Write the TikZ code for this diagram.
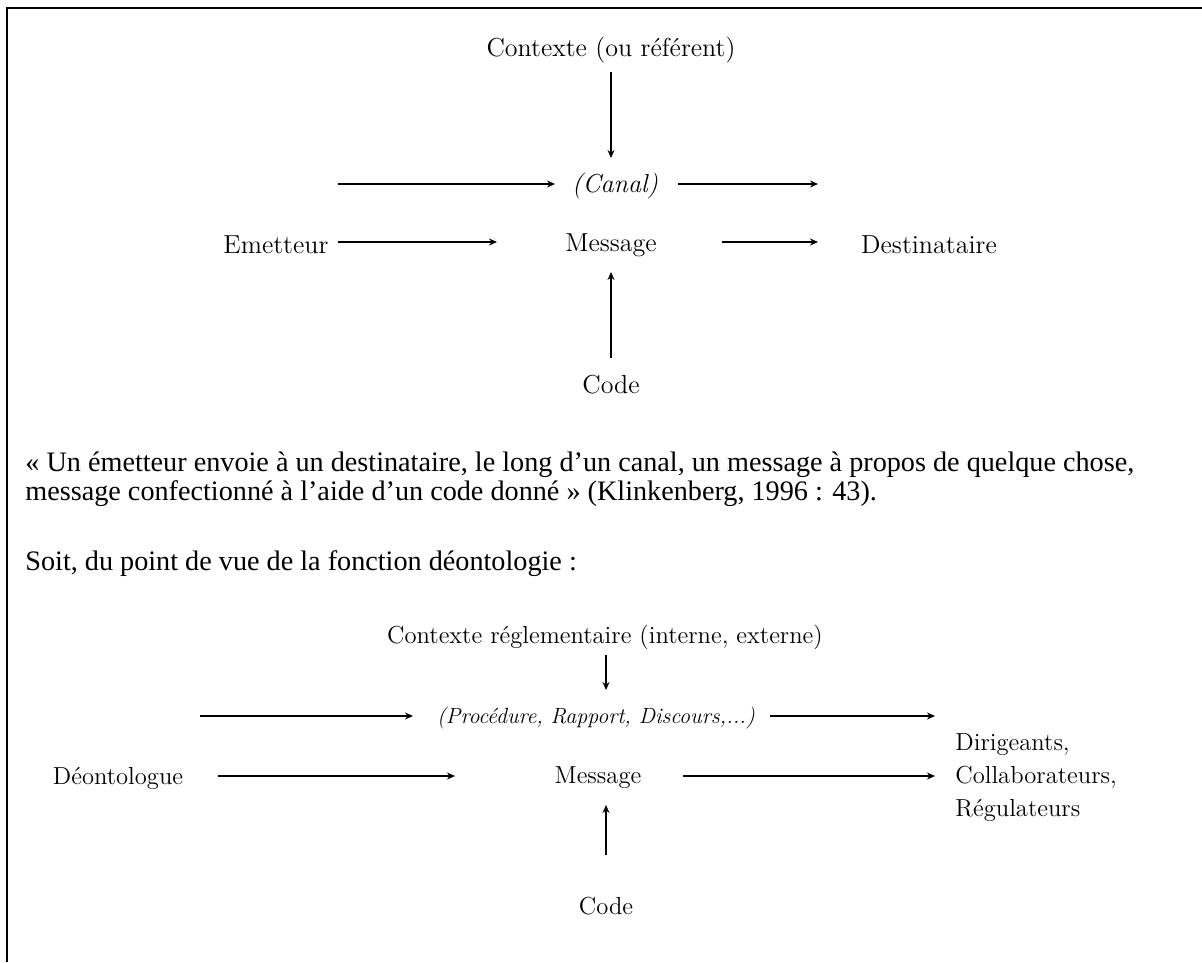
\documentclass[tikz,border=0pt]{standalone}
\usepackage{fontspec}
\usetikzlibrary{arrows.meta}
\newfontfamily\parafont{Liberation Serif}

\tikzset{
  lbl/.style={inner sep=0pt,font=\fontsize{13}{16}\selectfont},
  ital/.style={inner sep=0pt,font=\fontsize{13}{16}\selectfont\itshape},
  lblb/.style={inner sep=0pt,font=\fontsize{12.3}{15.5}\selectfont},
  italb/.style={inner sep=0pt,font=\fontsize{11}{13}\selectfont\itshape},
  para/.style={inner sep=0pt,anchor=base west,font=\parafont\fontsize{14.1}{17}\selectfont},
  fl/.style={line width=0.7pt,-{Stealth[length=4pt,width=3.5pt]}},
}

\begin{document}
\begin{tikzpicture}[x=0.5pt,y=-0.5pt]
  \useasboundingbox (0,0) rectangle (1202,962);
  \draw[line width=1.4pt] (7,962) -- (7,8) -- (1202,8);

  \node[lbl] (ctx) at (611,50) {Contexte (ou référent)};
  \node[ital] (canal) at (615,186) {(Canal)};
  \node[lbl] (emet) at (276,245) {Emetteur};
  \node[lbl] (msg) at (611,245) {Message};
  \node[lbl] (dest) at (929,245) {Destinataire};
  \node[lbl] (code) at (611,385) {Code};

  \coordinate (c1) at (611,72);   \coordinate (c2) at (611,158);
  \coordinate (c3) at (338,184);  \coordinate (c4) at (555,184);
  \coordinate (c5) at (678,184);  \coordinate (c6) at (818,184);
  \coordinate (c7) at (338,242);  \coordinate (c8) at (497,242);
  \coordinate (c9) at (722,242);  \coordinate (c10) at (818,242);
  \coordinate (c11) at (611,358); \coordinate (c12) at (611,272);
  \foreach \a/\b in {c1/c2,c3/c4,c5/c6,c7/c8,c9/c10,c11/c12}
    \draw[fl] (\a) -- (\b);

  \node[para] (p1) at (25,471) {« Un émetteur envoie à un destinataire, le long d’un canal, un message à propos de quelque chose,};
  \node[para] (p2) at (25,500) {message confectionné à l’aide d’un code donné » (Klinkenberg, 1996 : 43).};
  \node[para] (p3) at (25,570) {Soit, du point de vue de la fonction déontologie :};

  \node[lblb] (ctxb) at (605,637) {Contexte réglementaire (interne, externe)};
  \node[italb] (proc) at (596,718) {(Procédure, Rapport, Discours,...)};
  \node[lblb] (deon) at (118,778) {Déontologue};
  \node[lblb] (msgb) at (598,778) {Message};
  \node[lblb,anchor=west,align=left] (destb) at (955,778) {Dirigeants,\\[1pt]Collaborateurs,\\[1pt]Régulateurs};
  \node[lblb] (codeb) at (606,906) {Code};

  \coordinate (d1) at (606,655);  \coordinate (d2) at (606,690);
  \coordinate (d3) at (200,716);  \coordinate (d4) at (413,716);
  \coordinate (d5) at (770,716);  \coordinate (d6) at (935,716);
  \coordinate (d7) at (218,776);  \coordinate (d8) at (455,776);
  \coordinate (d9) at (683,776);  \coordinate (d10) at (935,776);
  \coordinate (d11) at (606,855); \coordinate (d12) at (606,805);
  \foreach \a/\b in {d1/d2,d3/d4,d5/d6,d7/d8,d9/d10,d11/d12}
    \draw[fl] (\a) -- (\b);
\end{tikzpicture}
\end{document}
